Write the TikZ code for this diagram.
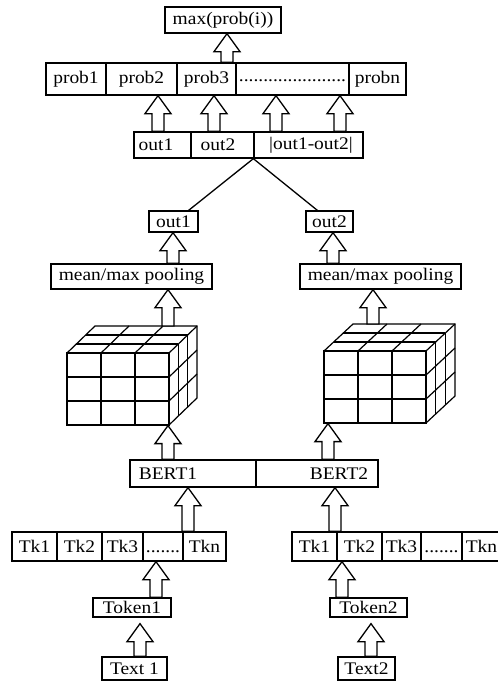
\documentclass[tikz,border=0pt]{standalone}
\usepackage{fontspec}
\setmainfont{Liberation Serif}[FakeStretch=1.1]
\usetikzlibrary{calc}
\newcommand\diagfont{\fontsize{17.7pt}{20pt}\selectfont}
\newcommand\cellbox[6]{\node[box, minimum width={#4-#2}, minimum height={#5-#3}] (#1) at ({(#2+#4)/2},{(#3+#5)/2}) {#6};}
\newcommand\hup[3]{%
  \draw[harrow] let \p1=(#1), \p2=(#2), \p3=(#3,0) in
   ({\x3-6pt},\y1) -- ({\x3-6pt},{\y2-18pt}) -- ({\x3-13pt},{\y2-18pt}) -- (\x3,\y2)
   -- ({\x3+13pt},{\y2-18pt}) -- ({\x3+6pt},{\y2-18pt}) -- ({\x3+6pt},\y1) -- cycle;}
\newcommand\cubeat[4]{%
 \begin{scope}[shift={(#2,#3)}]
  \node[draw, line width=1.2pt, inner sep=0pt, minimum width=102, minimum height=72] (#1) at (51,36) {};
  \coordinate (#1top) at (#4,-27);
  \draw[grid] (34,0) -- (34,72) (68,0) -- (68,72) (0,24) -- (102,24) (0,48) -- (102,48);
  \draw[grid] (0,0) -- (#4,-27) -- ({102+#4},-27) -- ({102+#4},45) -- (102,72);
  \draw[grid] (102,0) -- ({102+#4},-27);
  \foreach \i in {1,2} {
    \draw[grid] ({34*\i},0) -- ({34*\i+#4},-27);
    \draw[grid] ({#4*\i/3},{-9*\i}) -- ({102+#4*\i/3},{-9*\i});
    \draw[grid] ({102+#4*\i/3},{-9*\i}) -- ({102+#4*\i/3},{72-9*\i});
    \draw[grid] (102,{24*\i}) -- ({102+#4},{24*\i-27});
  }
 \end{scope}}
\begin{document}
\begin{tikzpicture}[x=1pt,y=-1pt,
  box/.style={draw, line width=1.3pt, inner sep=0pt, font=\diagfont},
  lbl/.style={inner sep=0pt, font=\diagfont},
  harrow/.style={draw, fill=white, line width=1.3pt, line join=miter},
  conn/.style={line width=1.3pt},
  grid/.style={line width=1.2pt, line join=miter}]
\useasboundingbox (0,0) rectangle (498,681);
% top
\cellbox{maxp}{165}{7}{281}{33}{max(prob(i))}
\cellbox{p1}{46}{63}{106}{95}{prob1}
\cellbox{p2}{106}{63}{177}{95}{prob2}
\cellbox{p3}{177}{63}{236}{95}{prob3}
\cellbox{pd}{236}{63}{349}{95}{\vphantom{p}......................}
\cellbox{pn}{349}{63}{406}{95}{probn}
\hup{p3.north}{maxp.south}{227}
% out row
\cellbox{o1}{134}{132}{191}{158}{}
\cellbox{o2}{191}{132}{254}{158}{}
\cellbox{od}{254}{132}{363}{158}{}
\node[lbl] (o1t) at (156,145) {out1};
\node[lbl] (o2t) at (218,145) {out2};
\node[lbl] (odt) at (311,145) {|out1-out2|};
\hup{o1.north}{p2.south}{158}
\hup{o2.north}{p3.south}{214}
\hup{od.north}{pd.south}{276}
\hup{od.north}{pd.south}{340}
% out boxes
\cellbox{b1}{149}{211}{198}{232}{out1}
\cellbox{b2}{306}{211}{353}{232}{out2}
\draw[conn] (od.south west) -- ($(b1.north east)+(-10,0)$);
\draw[conn] (od.south west) -- ($(b2.north west)+(12,0)$);
% pooling
\cellbox{m1}{51}{264}{212}{289}{mean/max pooling}
\cellbox{m2}{300}{264}{461}{289}{mean/max pooling}
\hup{m1.north}{b1.south}{173}
\hup{m2.north}{b2.south}{333}
% cubes
\cubeat{c1}{67}{353}{28}
\cubeat{c2}{324}{351}{29}
\hup{c1top}{m1.south}{168}
\hup{c2top}{m2.south}{373}
% BERT
\cellbox{r1}{130}{460}{256}{487}{}
\cellbox{r2}{256}{460}{378}{487}{}
\node[lbl] (r1t) at (168,473.5) {BERT1};
\node[lbl] (r2t) at (339,473.5) {BERT2};
\hup{r1.north}{c1.south}{168}
\hup{r2.north}{c2.south}{328}
% token rows
\cellbox{lt1}{12}{532}{57}{561}{Tk1}
\cellbox{lt2}{57}{532}{102}{561}{Tk2}
\cellbox{lt3}{102}{532}{143}{561}{Tk3}
\cellbox{lt4}{143}{532}{183}{561}{\vphantom{T}.......}
\cellbox{lt5}{183}{532}{226}{561}{Tkn}
\cellbox{rt1}{292}{532}{337}{561}{Tk1}
\cellbox{rt2}{337}{532}{382}{561}{Tk2}
\cellbox{rt3}{382}{532}{421}{561}{Tk3}
\cellbox{rt4}{421}{532}{462}{561}{\vphantom{T}.......}
\cellbox{rt5}{462}{532}{501}{561}{Tkn}
\hup{lt5.north}{r1.south}{188}
\hup{rt1.north}{r2.south}{335}
% Token and Text
\cellbox{k1}{93}{598}{171}{617}{Token1}
\cellbox{k2}{330}{598}{407}{617}{Token2}
\hup{k1.north}{lt4.south}{156}
\hup{k2.north}{rt2.south}{342}
\cellbox{t1}{102}{657}{167}{680}{Text 1}
\cellbox{t2}{338}{657}{395}{680}{Text2}
\hup{t1.north}{$(k1.south)+(0,6)$}{140}
\hup{t2.north}{$(k2.south)+(0,6)$}{371}
\end{tikzpicture}
\end{document}
